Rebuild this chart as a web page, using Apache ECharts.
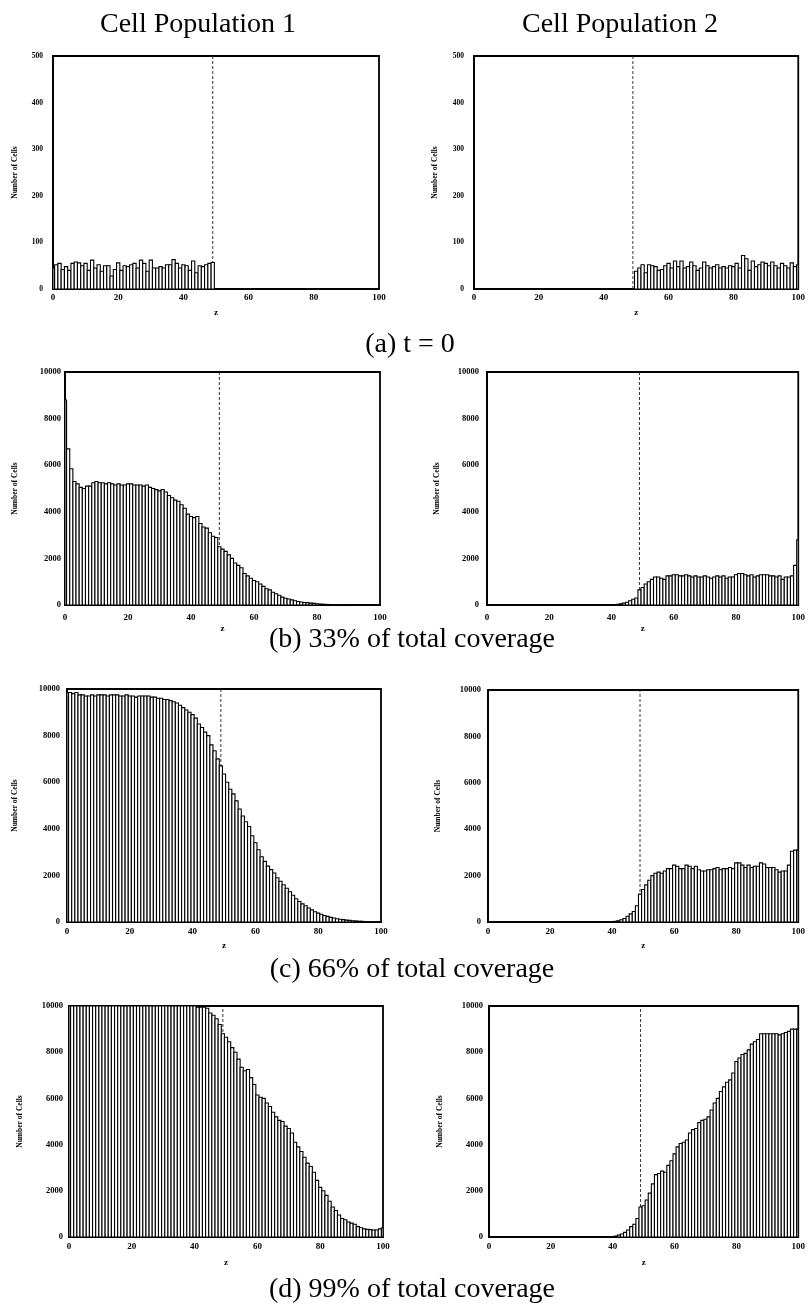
<!DOCTYPE html>
<html>
<head>
<meta charset="utf-8">
<script src="https://cdn.jsdelivr.net/npm/echarts@6/dist/echarts.min.js"></script>
<style>
  html, body { margin: 0; padding: 0; background: #fff; }
  #chart { width: 808px; height: 1308px; }
</style>
</head>
<body>
<div id="chart"></div>
<script>
// Histograms of cell counts per z-bin (bins centred on integer z, 0..100).
// Each series lists counts starting at its own first z value.

const xTicks = [0, 20, 40, 60, 80, 100];
const yTicksSmall = [0, 100, 200, 300, 400, 500];
const yTicksLarge = [0, 2000, 4000, 6000, 8000, 10000];
const interfaceZ = 49;

// (a) t = 0
const a1Start = 0;
const a1Counts = [
  45, 52, 55, 42, 48, 40, 55, 58, 56, 50,
  55, 40, 62, 45, 52, 38, 50, 50, 28, 42,
  56, 40, 50, 48, 52, 55, 45, 62, 55, 38,
  62, 45, 45, 48, 45, 52, 52, 63, 55, 45,
  52, 50, 40, 60, 35, 50, 48, 52, 55, 57
];
const a2Start = 50;
const a2Counts = [
  38, 45, 52, 35, 52, 50, 48, 40, 42, 50,
  55, 45, 60, 48, 60, 45, 48, 58, 50, 40,
  45, 58, 50, 45, 48, 52, 45, 48, 45, 50,
  48, 55, 45, 72, 65, 40, 60, 48, 52, 58,
  55, 50, 58, 50, 45, 55, 50, 45, 56, 48,
  52
];

// (b) 33% of total coverage
const b1Start = 0;
const b1Counts = [
  8800, 6700, 5850, 5300, 5200, 5050, 5000, 5100, 5100, 5250,
  5300, 5250, 5250, 5200, 5250, 5200, 5150, 5200, 5150, 5150,
  5200, 5200, 5150, 5150, 5150, 5100, 5150, 5050, 5000, 4950,
  4900, 4950, 4850, 4700, 4600, 4500, 4450, 4300, 4150, 3900,
  3800, 3750, 3800, 3500, 3350, 3300, 3100, 2950, 2900, 2500,
  2400, 2300, 2150, 2000, 1800, 1700, 1600, 1350, 1250, 1150,
  1050, 1000, 900, 800, 700, 650, 550, 480, 420, 340,
  290, 260, 220, 180, 150, 130, 110, 100, 80, 70,
  55, 40, 35, 25, 20, 15, 10, 8, 5, 4,
  3, 2, 2, 1, 1
];
const b2Start = 40;
const b2Counts = [
  20, 20, 30, 50, 80, 120, 180, 250, 300, 650,
  750, 900, 1000, 1100, 1200, 1200, 1150, 1100, 1250, 1250,
  1300, 1300, 1250, 1250, 1300, 1250, 1200, 1250, 1200, 1200,
  1250, 1200, 1150, 1200, 1250, 1200, 1250, 1150, 1200, 1200,
  1300, 1350, 1350, 1300, 1250, 1300, 1200, 1250, 1300, 1300,
  1300, 1250, 1250, 1200, 1250, 1100, 1200, 1200, 1250, 1700,
  2800
];

// (c) 66% of total coverage
const c1Start = 0;
const c1Counts = [
  9850, 9850, 9800, 9850, 9750, 9750, 9700, 9700, 9750, 9700,
  9750, 9750, 9750, 9700, 9750, 9750, 9750, 9700, 9700, 9750,
  9700, 9700, 9650, 9700, 9700, 9700, 9700, 9650, 9650, 9600,
  9600, 9550, 9550, 9500, 9450, 9400, 9300, 9200, 9100, 9000,
  8900, 8750, 8500, 8350, 8150, 8000, 7600, 7350, 7000, 6700,
  6350, 6000, 5700, 5500, 5200, 4850, 4550, 4300, 4100, 3700,
  3400, 3100, 2800, 2600, 2400, 2250, 2100, 1900, 1750, 1600,
  1450, 1300, 1150, 1000, 880, 780, 700, 600, 520, 440,
  380, 330, 280, 240, 200, 170, 140, 120, 100, 80,
  70, 55, 45, 35, 28, 20, 15, 10, 8, 5,
  3
];
const c2Start = 40;
const c2Counts = [
  20, 30, 50, 100, 150, 250, 350, 450, 700, 1200,
  1400, 1600, 1800, 2000, 2100, 2150, 2100, 2200, 2300, 2300,
  2450, 2400, 2300, 2300, 2450, 2400, 2300, 2400, 2250, 2200,
  2200, 2250, 2250, 2300, 2350, 2250, 2300, 2300, 2350, 2300,
  2550, 2550, 2450, 2350, 2450, 2350, 2400, 2400, 2550, 2500,
  2350, 2350, 2350, 2250, 2150, 2200, 2200, 2450, 3050, 3100,
  3100
];

// (d) 99% of total coverage
const d1Start = 0;
const d1Counts = [
  10000, 10000, 10000, 10000, 10000, 10000, 10000, 10000, 10000, 10000,
  10000, 10000, 10000, 10000, 10000, 10000, 10000, 10000, 10000, 10000,
  10000, 10000, 10000, 10000, 10000, 10000, 10000, 10000, 10000, 10000,
  10000, 10000, 10000, 10000, 10000, 10000, 10000, 10000, 10000, 10000,
  10000, 9950, 9950, 9950, 9900, 9700, 9600, 9450, 9200, 8800,
  8650, 8450, 8200, 8000, 7700, 7350, 7200, 7250, 6900, 6600,
  6150, 6050, 6000, 5800, 5650, 5400, 5200, 5050, 5000, 4800,
  4700, 4500, 4100, 3900, 3700, 3450, 3200, 3050, 2800, 2450,
  2150, 2000, 1800, 1550, 1300, 1150, 950, 800, 750, 650,
  600, 550, 450, 400, 350, 330, 320, 300, 300, 350,
  400
];
const d2Start = 40;
const d2Counts = [
  20, 40, 80, 130, 200, 300, 450, 550, 800, 1300,
  1350, 1600, 1900, 2300, 2700, 2750, 2850, 2800, 3100, 3300,
  3600, 3900, 4050, 4100, 4200, 4500, 4650, 4700, 4950, 5050,
  5100, 5200, 5500, 5800, 6000, 6300, 6500, 6700, 6800, 7100,
  7600, 7750, 7900, 7950, 8100, 8350, 8450, 8550, 8800, 8800,
  8800, 8800, 8800, 8800, 8750, 8800, 8850, 8900, 9000, 9000,
  9000
];

const columnTitles = ['Cell Population 1', 'Cell Population 2'];
const captions = [
  '(a) t = 0',
  '(b) 33% of total coverage',
  '(c) 66% of total coverage',
  '(d) 99% of total coverage'
];
const xName = 'z';
const yName = 'Number of Cells';

// Panel layout: plot boxes, label spacing and fonts.
const panels = [
  { start: a1Start, counts: a1Counts, yTicks: yTicksSmall, box: [53, 56, 326, 233], yMargin: 10, xMargin: 4, yNameGap: 34, xNameGap: 19, yFont: 7.5 },
  { start: a2Start, counts: a2Counts, yTicks: yTicksSmall, box: [474, 56, 325, 233], yMargin: 10, xMargin: 4, yNameGap: 35, xNameGap: 19, yFont: 7.5 },
  { start: b1Start, counts: b1Counts, yTicks: yTicksLarge, box: [65, 372, 315, 233], yMargin: 4, xMargin: 8, yNameGap: 46, xNameGap: 19, yFont: 8.5 },
  { start: b2Start, counts: b2Counts, yTicks: yTicksLarge, box: [487, 372, 313, 233], yMargin: 8, xMargin: 8, yNameGap: 46, xNameGap: 19, yFont: 8.5 },
  { start: c1Start, counts: c1Counts, yTicks: yTicksLarge, box: [67, 689, 314, 233], yMargin: 7, xMargin: 5, yNameGap: 48, xNameGap: 19, yFont: 8.5 },
  { start: c2Start, counts: c2Counts, yTicks: yTicksLarge, box: [488, 690, 314, 232], yMargin: 7, xMargin: 5, yNameGap: 46, xNameGap: 19, yFont: 8.5 },
  { start: d1Start, counts: d1Counts, yTicks: yTicksLarge, box: [69, 1006, 314, 231], yMargin: 6, xMargin: 5, yNameGap: 45, xNameGap: 21, yFont: 8.5 },
  { start: d2Start, counts: d2Counts, yTicks: yTicksLarge, box: [489, 1006, 317, 231], yMargin: 6, xMargin: 5, yNameGap: 45, xNameGap: 21, yFont: 8.5 }
];

const labelFont = 'Liberation Serif';
const headFont = '28px "Liberation Serif", "DejaVu Serif", serif';
const plainNumber = (v) => String(v);

const grid = [], xAxis = [], yAxis = [], series = [];

panels.forEach((p, i) => {
  const yMax = p.yTicks[p.yTicks.length - 1];
  const yStep = p.yTicks[1] - p.yTicks[0];
  grid.push({
    left: p.box[0], top: p.box[1], width: p.box[2], height: p.box[3],
    show: true, borderColor: '#000', borderWidth: 1.8, backgroundColor: '#fff'
  });
  xAxis.push({
    type: 'value', gridIndex: i, min: xTicks[0], max: xTicks[xTicks.length - 1],
    interval: xTicks[1] - xTicks[0],
    name: xName, nameLocation: 'middle', nameGap: p.xNameGap,
    nameTextStyle: { fontFamily: labelFont, fontWeight: 'bold', fontSize: 9, color: '#000' },
    axisLine: { show: true, onZero: false, lineStyle: { color: '#000', width: 1.8 } },
    axisTick: { show: false },
    splitLine: { show: false },
    axisLabel: { margin: p.xMargin, fontFamily: labelFont, fontWeight: 'bold', fontSize: 9, color: '#000', formatter: plainNumber }
  });
  yAxis.push({
    type: 'value', gridIndex: i, min: 0, max: yMax, interval: yStep,
    name: yName, nameLocation: 'middle', nameGap: p.yNameGap,
    nameTextStyle: { fontFamily: labelFont, fontWeight: 'bold', fontSize: 7.5, color: '#000' },
    axisLine: { show: true, lineStyle: { color: '#000', width: 1.8 } },
    axisTick: { show: false },
    splitLine: { show: false },
    axisLabel: { margin: p.yMargin, fontFamily: labelFont, fontWeight: 'bold', fontSize: p.yFont, color: '#000', formatter: plainNumber }
  });

  // dashed marker at the interface between the two populations
  series.push({
    type: 'line', xAxisIndex: i, yAxisIndex: i, z: 1,
    data: [[interfaceZ, 0], [interfaceZ, yMax]],
    symbol: 'none', silent: true, animation: false,
    lineStyle: { color: '#222', width: 0.9, type: [3, 2] }
  });

  // histogram bars, one rect per z-bin
  series.push({
    type: 'custom', xAxisIndex: i, yAxisIndex: i, z: 2,
    clip: true, animation: false, silent: true,
    data: p.counts.map((v, k) => [p.start + k, v]),
    renderItem: (params, api) => {
      const z = api.value(0), v = api.value(1);
      const lo = Math.max(z - 0.5, 0), hi = Math.min(z + 0.5, 100);
      const p0 = api.coord([lo, 0]);
      const p1 = api.coord([hi, v]);
      return {
        type: 'rect',
        shape: { x: p0[0], y: p1[1], width: p1[0] - p0[0], height: p0[1] - p1[1] },
        style: { fill: '#fff', stroke: '#000', lineWidth: 1.1 }
      };
    }
  });
});

const headText = (text, x, y) => ({
  type: 'text', x: x, y: y,
  style: {
    text: text, font: headFont, fill: '#000',
    align: 'center', verticalAlign: 'middle',
    textAlign: 'center', textVerticalAlign: 'middle'
  }
});

const graphic = [
  headText(columnTitles[0], 198, 25),
  headText(columnTitles[1], 620, 25),
  headText(captions[0], 410, 345),
  headText(captions[1], 412, 640),
  headText(captions[2], 412, 970),
  headText(captions[3], 412, 1290)
];

const chart = echarts.init(document.getElementById('chart'), null, { renderer: 'canvas' });
chart.setOption({
  backgroundColor: '#fff',
  animation: false,
  grid: grid,
  xAxis: xAxis,
  yAxis: yAxis,
  series: series,
  graphic: graphic
});
</script>
</body>
</html>
